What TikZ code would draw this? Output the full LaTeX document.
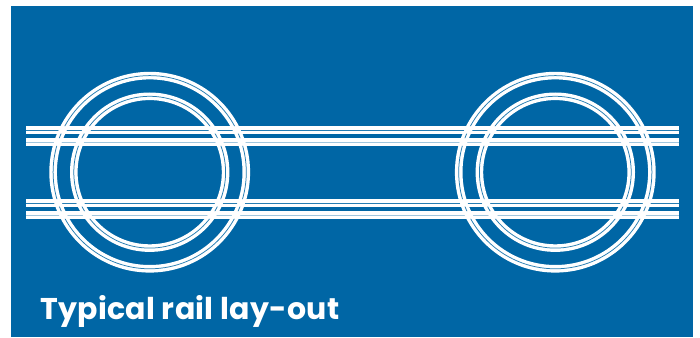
\documentclass[tikz,border=0pt]{standalone}
\usepackage{fontspec}
\setmainfont{Poppins}
\newfontfamily\titlefont[LetterSpace=1.0]{Poppins}
\definecolor{railblue}{RGB}{0,102,165}
\definecolor{railpale}{RGB}{160,198,222}
\tikzset{
  railbed/.style={draw=white, line width=7.6pt},
  railgap/.style={draw=railblue!85!white, line width=0.75pt},
  railgappale/.style={draw=railpale, line width=0.9pt},
}
\begin{document}
\begin{tikzpicture}[x=1pt, y=-1pt]
  \useasboundingbox (0,0) rectangle (700,337);
  %% 1. Background
  \fill[railblue] (11,6) rectangle (693,337);
  %% 2. Straight tracks
  \foreach \y in {129.9,142,202.9,215}
    \draw[railbed] (26,\y) -- (679,\y);
  %% 3. Loops
  \foreach \x in {149.7,555.3} {
    \foreach \r in {96.6,75.9} {
      \draw[railbed] (\x,172.2) circle (\r);
    }
  }
  \begin{scope}[even odd rule]
    % the gaps stop where tracks cross
    \clip (0,0) rectangle (700,337)
      (26,126) rectangle (679,133.7) (26,138.2) rectangle (679,145.8)
      (26,199.1) rectangle (679,206.7) (26,211.2) rectangle (679,218.8);
    \foreach \x in {149.7,555.3} {
      \foreach \r in {96.6,75.9} {
        \draw[railgap] (\x,172.2) circle (\r);
      }
    }
  \end{scope}
  \begin{scope}[even odd rule]
    \clip (0,0) rectangle (700,337)
      (149.7,172.2) circle (100.4) (149.7,172.2) circle (92.8)
      (149.7,172.2) circle (79.7) (149.7,172.2) circle (72.1)
      (555.3,172.2) circle (100.4) (555.3,172.2) circle (92.8)
      (555.3,172.2) circle (79.7) (555.3,172.2) circle (72.1);
    \draw[railgap] (26,129.9) -- (679,129.9);
    \draw[railgappale] (26,142) -- (679,142);
    \draw[railgap] (26,202.9) -- (679,202.9);
    \draw[railgappale] (26,215) -- (679,215);
  \end{scope}
  %% 4. Title
  \node[anchor=base west, inner sep=0pt, text=white, font=\titlefont\fontsize{30}{34}\selectfont\bfseries] (title) at (40,319) {Typical rail lay-out};
\end{tikzpicture}
\end{document}
